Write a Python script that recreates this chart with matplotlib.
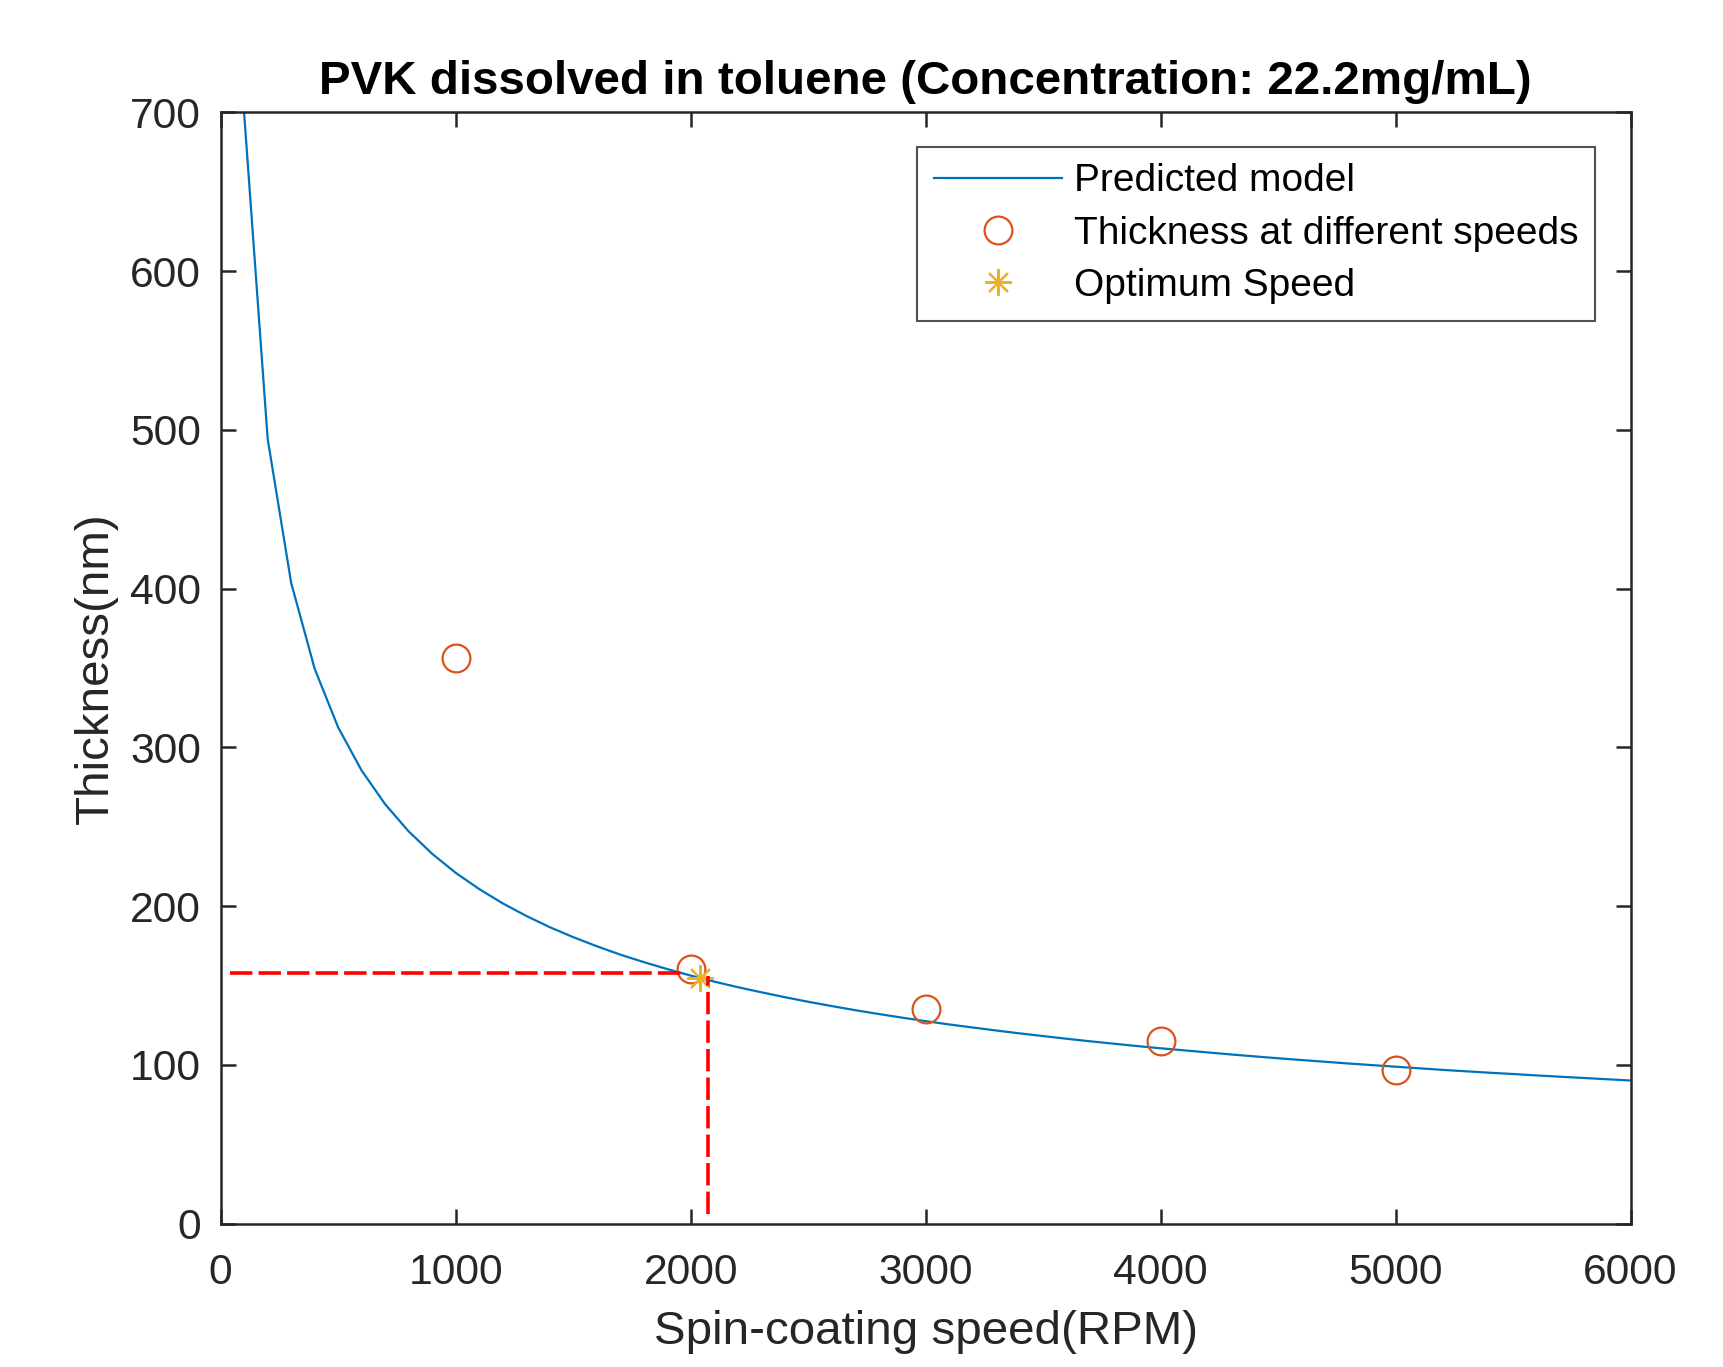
import numpy as np
import matplotlib
matplotlib.use("Agg")
import matplotlib.pyplot as plt

plt.rcParams['font.family'] = ['Liberation Sans', 'DejaVu Sans']

rpm_model = np.arange(100, 6100, 100)
thick_model = [699.0, 494.3, 403.6, 349.5, 312.6, 285.4, 264.2, 247.1, 233.0, 221.0,
               210.8, 201.8, 193.9, 186.8, 180.5, 174.8, 169.5, 164.8, 160.4, 156.3,
               152.5, 149.0, 145.8, 142.7, 139.8, 137.1, 134.5, 132.1, 129.8, 127.6,
               125.5, 123.6, 121.7, 119.9, 118.2, 116.5, 114.9, 113.4, 111.9, 110.5,
               109.2, 107.9, 106.6, 105.4, 104.2, 103.1, 102.0, 100.9, 99.9, 98.9,
               97.9, 96.9, 96.0, 95.1, 94.3, 93.4, 92.6, 91.8, 91.0, 90.2]

# measured thickness
rpm_meas = [1000, 2000, 3000, 4000, 5000]
thick_meas = [356.6, 160.6, 135.0, 114.9, 96.9]

# optimum point
rpm_opt = 2040
thick_opt = 155.0

# guide lines
guide_h_x = [40, 1975]
guide_h_y = [157.9, 157.9]
guide_v_x = [2074, 2074]
guide_v_y = [6.3, 156.3]

c_axis = "#262626"

fig = plt.figure(figsize=(17.24, 13.67), dpi=100, facecolor='white')
ax = fig.add_axes([0.128, 0.1048, 0.8178, 0.8131])

ax.plot(rpm_model, thick_model, color="#0072BD", lw=1.6, label="Predicted model")
ax.plot(rpm_meas, thick_meas, 'o', ms=20, mfc='none', mec="#D95319", mew=1.6,
        label="Thickness at different speeds")
ax.plot([rpm_opt], [thick_opt], ls='none', marker=(8, 2, 0), ms=19, mec="#EDB120",
        mew=1.6, label="Optimum Speed")
ax.plot(guide_h_x, guide_h_y, color='red', lw=2.6, dashes=(6.2, 1.7))
ax.plot(guide_v_x, guide_v_y, color='red', lw=2.6, dashes=(6.2, 1.7))

ax.set_xlim(0, 6000)
ax.set_ylim(0, 700)
ax.set_xticks(np.arange(0, 7000, 1000))
ax.set_yticks(np.arange(0, 800, 100))

for s in ax.spines.values():
    s.set_color(c_axis)
    s.set_linewidth(1.8)
ax.tick_params(direction='in', length=11, width=1.8, colors=c_axis,
               top=True, right=True, labelsize=30.7)
ax.tick_params(axis='x', pad=21)
ax.tick_params(axis='y', pad=14)

ax.set_xlabel("Spin-coating speed(RPM)", fontsize=34.2, color=c_axis, labelpad=12)
ax.set_ylabel("Thickness(nm)", fontsize=34.2, color=c_axis, labelpad=9)
ax.set_title("PVK dissolved in toluene (Concentration: 22.2mg/mL)", fontsize=34.2,
             fontweight='bold', pad=13)

leg = ax.legend(loc='upper right', bbox_to_anchor=(0.975, 0.969), fontsize=28,
                frameon=True, fancybox=False, edgecolor=c_axis, handlelength=3.3,
                handletextpad=0.3, labelspacing=0.42, borderpad=0.43, borderaxespad=0)
leg.get_frame().set_linewidth(1.5)

fig.savefig("out.png", dpi=100, facecolor='white')
